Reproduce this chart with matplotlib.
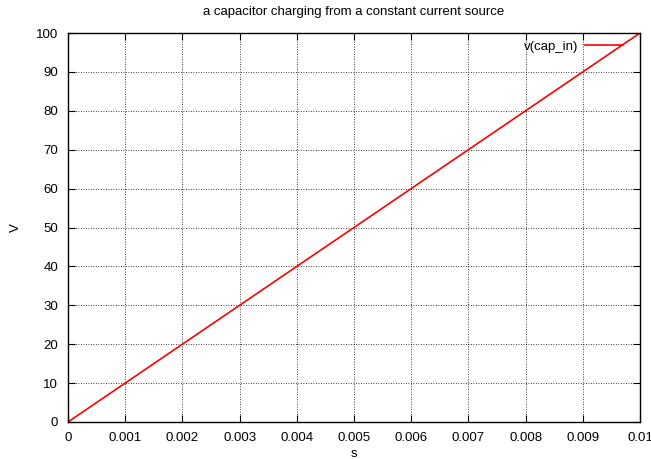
import matplotlib
matplotlib.use("Agg")
import matplotlib.pyplot as plt

time_s = [0.0, 0.002, 0.004, 0.006, 0.008, 0.01]
v_cap_in = [0.0, 20.0, 40.0, 60.0, 80.0, 100.0]
x_ticks = [0, 0.001, 0.002, 0.003, 0.004, 0.005, 0.006, 0.007, 0.008, 0.009, 0.01]
x_labels = ["0", "0.001", "0.002", "0.003", "0.004", "0.005", "0.006", "0.007", "0.008", "0.009", "0.01"]
y_ticks = list(range(0, 101, 10))

plt.rcParams['font.family'] = ['Liberation Sans', 'DejaVu Sans']
fs = 9.5
plt.rcParams['font.size'] = fs

fig = plt.figure(figsize=(6.51, 4.59), dpi=100)
ax = fig.add_axes([68/651, 1-422/459, (640-68)/651, (422-33)/459])

ax.plot(time_s, v_cap_in, color='#ff0000', lw=1.2, label='v(cap_in)')
ax.set_xlim(0, 0.01)
ax.set_ylim(0, 100)
ax.set_xticks(x_ticks)
ax.set_xticklabels(x_labels)
ax.set_yticks(y_ticks)
ax.grid(True, color='black', linestyle=(0, (1, 2)), linewidth=0.6)
ax.tick_params(direction='in', top=True, right=True, length=5, width=0.8, labelsize=fs, pad=7)
for s in ax.spines.values():
    s.set_linewidth(1.0)

ax.set_title('a capacitor charging from a constant current source', fontsize=fs, pad=13)
ax.set_xlabel('s', fontsize=fs, labelpad=3)
ax.set_ylabel('V', fontsize=fs, labelpad=10)

leg = ax.legend(loc='upper right', bbox_to_anchor=(1 - 12/572, 1 - 2/389), frameon=False,
                markerfirst=False, handlelength=2.85, fontsize=fs, borderaxespad=0.0,
                handletextpad=0.55)

fig.savefig('out.png', dpi=100)
